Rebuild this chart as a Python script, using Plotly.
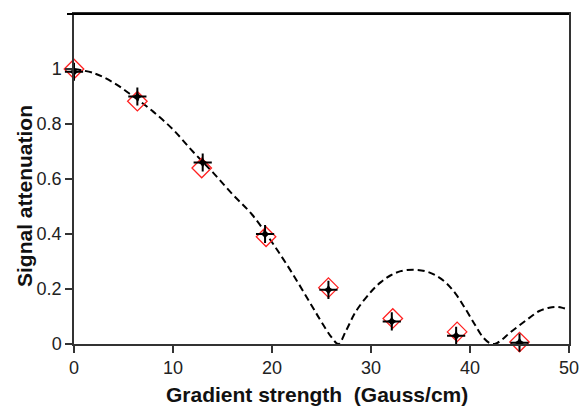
import plotly.graph_objects as go

# Measured data (diamonds and stars)
grad_x = [0, 6.4, 12.9, 19.4, 25.7, 32.2, 38.7, 45.0]
diamond_y = [1.0, 0.883, 0.64, 0.39, 0.205, 0.093, 0.044, 0.007]
star_x = [0, 6.4, 13.0, 19.3, 25.7, 32.1, 38.6, 45.0]
star_y = [0.99, 0.90, 0.66, 0.40, 0.197, 0.082, 0.03, 0.005]

# Dashed curve
curve_x = [0, 2, 4, 6, 8, 10, 12, 14, 16, 18, 20, 22, 24, 25, 26, 26.7,
           27.5, 28.5, 30, 31, 32, 33, 34.3, 35.5, 36.5, 37.5, 38.5, 39.5,
           40.5, 41.3, 42, 42.5, 43.2, 44, 45, 46, 47, 48, 48.8, 49.5, 50]
curve_y = [1.0, 0.985, 0.95, 0.90, 0.845, 0.78, 0.70, 0.625, 0.545, 0.47,
           0.37, 0.26, 0.14, 0.08, 0.025, 0.0, 0.05, 0.12, 0.19, 0.225, 0.25,
           0.265, 0.27, 0.265, 0.25, 0.225, 0.185, 0.13, 0.07, 0.025, 0.003,
           0.0, 0.015, 0.04, 0.068, 0.095, 0.12, 0.132, 0.135, 0.13, 0.125]

x_ticks = [0, 10, 20, 30, 40, 50]
y_ticks = [0, 0.2, 0.4, 0.6, 0.8, 1]
x_title = "<b>Gradient strength  (Gauss/cm)</b>"
y_title = "<b>Signal attenuation</b>"

FONT = "Liberation Sans, Arial, Helvetica"
W, H = 581, 407
ML, MR, MT, MB = 74, 12, 14, 63
PW, PH = W - ML - MR, H - MT - MB

fig = go.Figure()
fig.add_trace(go.Scatter(x=curve_x, y=curve_y, mode="lines",
                         line=dict(color="black", width=2, dash="7px,4px", shape="spline"),
                         showlegend=False, hoverinfo="skip"))
fig.add_trace(go.Scatter(x=grad_x, y=diamond_y, mode="markers",
                         marker=dict(symbol="diamond-open", size=15, color="#ff2020",
                                     line=dict(width=1.3, color="#ff2020")),
                         showlegend=False, cliponaxis=False))
# thin four-pointed stars: small star core + thin cross
fig.add_trace(go.Scatter(x=star_x, y=star_y, mode="markers",
                         marker=dict(symbol="star-diamond", size=8, color="black",
                                     line=dict(width=0)),
                         showlegend=False, cliponaxis=False))
fig.add_trace(go.Scatter(x=star_x, y=star_y, mode="markers",
                         marker=dict(symbol="cross-thin-open", size=13, color="black",
                                     line=dict(width=2, color="black")),
                         showlegend=False, cliponaxis=False))

axis_common = dict(showgrid=False, zeroline=False, showline=True, linecolor="#333333",
                   linewidth=1.5, mirror=True, ticks="outside", ticklen=7,
                   tickcolor="#333333", tickwidth=1.5, automargin=False,
                   tickfont=dict(family=FONT, size=18, color="#222222"))

fig.update_layout(
    width=W, height=H,
    margin=dict(l=ML, r=MR, t=MT, b=MB),
    plot_bgcolor="white", paper_bgcolor="white",
    xaxis=dict(range=[0, 50], tickvals=x_ticks, **axis_common),
    yaxis=dict(range=[0, 1.2], tickvals=y_ticks, **axis_common),
    shapes=[dict(type="line", xref="paper", yref="paper", x0=-7 / PW, x1=1, y0=1, y1=1,
                 line=dict(color="black", width=2))],
    annotations=[
        dict(text=x_title, xref="paper", yref="paper", x=(317 - ML) / PW,
             y=-(394 - (MT + PH)) / PH, xanchor="center", yanchor="middle",
             showarrow=False, font=dict(family=FONT, size=21, color="#111111")),
        dict(text=y_title, xref="paper", yref="paper", x=-(ML - 24) / PW,
             y=((MT + PH) - 196) / PH, xanchor="center", yanchor="middle", textangle=-90,
             showarrow=False, font=dict(family=FONT, size=21, color="#111111")),
    ],
)

fig.write_html("out.html", config={"displayModeBar": False},
               post_script="document.body.style.margin='0';document.body.style.overflow='hidden';")
